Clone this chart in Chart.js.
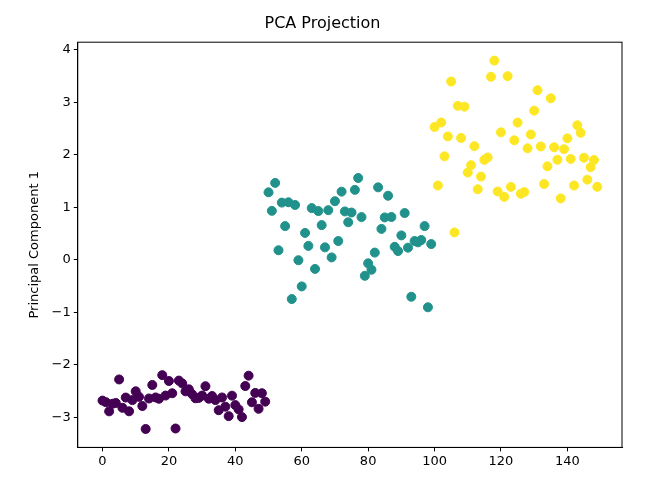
<!DOCTYPE html>
<html><head><script src="https://cdn.jsdelivr.net/npm/chart.js"></script>
<style>body{margin:0;background:#fff}#w{width:663px;height:487px}</style></head>
<body><div id="w"><canvas id="c"></canvas></div>
<script>
const setosa=[-2.684,-2.714,-2.889,-2.745,-2.729,-2.281,-2.821,-2.626,-2.888,-2.674,-2.507,-2.613,-2.787,-3.225,-2.644,-2.386,-2.624,-2.648,-2.199,-2.588,-2.310,-2.544,-3.216,-2.303,-2.356,-2.508,-2.469,-2.562,-2.640,-2.633,-2.588,-2.410,-2.648,-2.597,-2.674,-2.867,-2.625,-2.800,-2.980,-2.590,-2.770,-2.852,-2.998,-2.406,-2.209,-2.716,-2.538,-2.840,-2.543,-2.704];
const versicolor=[1.285,0.932,1.464,0.181,1.089,0.641,1.095,-0.749,1.044,-0.009,-0.508,0.511,0.264,0.984,-0.175,0.928,0.660,0.236,0.945,0.045,1.116,0.357,1.298,0.921,0.715,0.900,1.332,1.558,0.813,-0.306,-0.068,-0.190,0.137,1.380,0.588,0.807,1.220,0.815,0.246,0.166,0.464,0.890,0.230,-0.705,0.357,0.332,0.376,0.642,-0.906,0.299];
const virginica=[2.531,1.415,2.616,1.971,2.350,3.397,0.521,2.933,2.321,2.917,1.662,1.803,2.165,1.344,1.585,1.904,1.949,3.487,3.795,1.300,2.428,1.198,3.499,1.388,2.276,2.614,1.258,1.291,2.123,2.388,2.842,3.231,2.159,1.444,1.781,3.077,2.144,1.905,1.169,2.108,2.314,1.922,1.415,2.563,2.419,1.944,1.527,1.764,1.901,1.390];
const groups=[[setosa,'#440154',0],[versicolor,'#21918c',50],[virginica,'#fde725',100]];
const font={family:'DejaVu Sans',size:13};
const grid={drawOnChartArea:false,drawTicks:true,tickLength:4,color:'#000'};
new Chart(document.getElementById('c'),{type:'scatter',
data:{datasets:groups.map(([v,c,o])=>({data:v.map((y,i)=>({x:i+o,y})),backgroundColor:c,borderColor:c,pointRadius:4.5,pointHoverRadius:4.5}))},
options:{responsive:true,maintainAspectRatio:false,animation:false,
layout:{padding:{top:0,right:41,bottom:16,left:23}},
plugins:{legend:{display:false},tooltip:{enabled:false},title:{display:true,text:'PCA Projection',color:'#000',font:{family:'DejaVu Sans',size:16,weight:'normal'},padding:{top:14,bottom:9}}},
scales:{x:{type:'linear',min:-7.45,max:156.45,grid,border:{color:'#000'},ticks:{color:'#000',font,padding:2},afterBuildTicks:a=>{a.ticks=[0,20,40,60,80,100,120,140].map(v=>({value:v}))}},
y:{min:-3.576,max:4.146,grid,border:{color:'#000'},title:{display:true,text:'Principal Component 1',color:'#000',font,padding:{bottom:6}},ticks:{color:'#000',font,padding:3,callback:v=>v<0?'\u2212'+(-v):v},afterBuildTicks:a=>{a.ticks=[-3,-2,-1,0,1,2,3,4].map(v=>({value:v}))}}}},
plugins:[{id:'box',afterDraw(ch){const a=ch.chartArea,x=ch.ctx;x.save();x.strokeStyle='#000';x.lineWidth=1;x.strokeRect(a.left,a.top,a.right-a.left,a.bottom-a.top);x.restore();}}]
});
</script></body></html>
